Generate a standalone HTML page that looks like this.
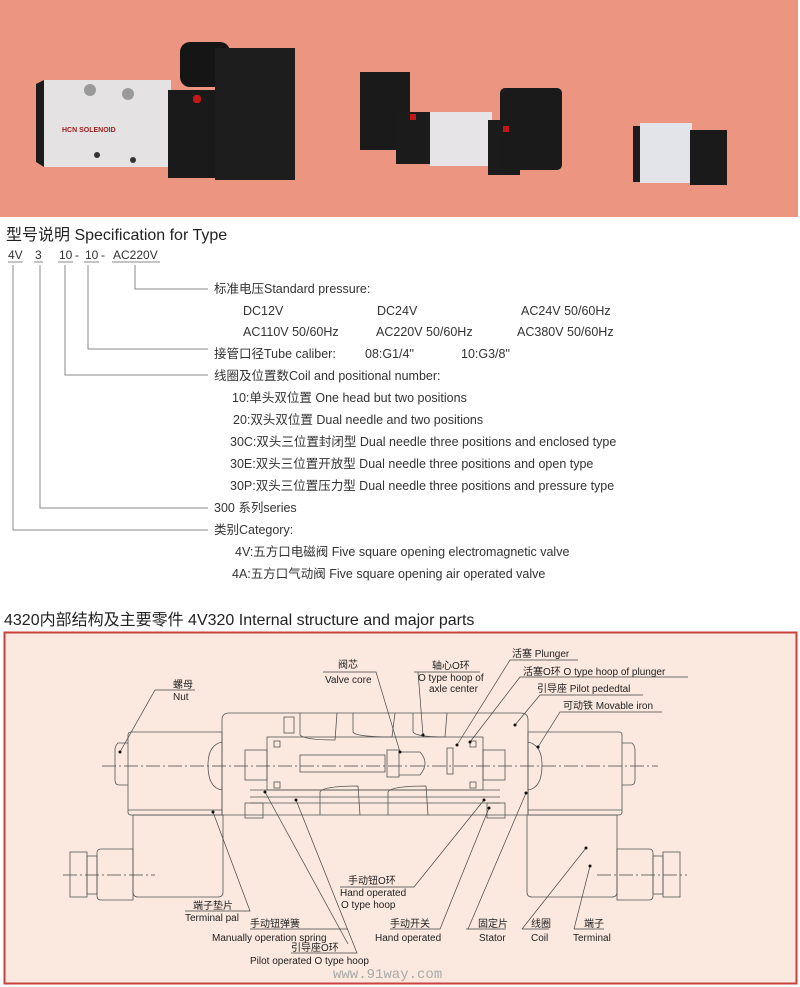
<!DOCTYPE html>
<html><head><meta charset="utf-8"><style>
body{margin:0;width:800px;height:987px;background:#fff;overflow:hidden;font-family:"Liberation Sans","Noto Sans CJK SC",sans-serif;}
svg{position:absolute;left:0;top:0}
</style></head><body>
<svg width="800" height="987" viewBox="0 0 800 987" font-family="Liberation Sans, Noto Sans CJK SC, sans-serif">
<!-- photo area -->
<rect x="0" y="0" width="798" height="217" fill="#ec9580"/>
<!-- big valve -->
<g>
<polygon points="36,84 44,80 44,167 36,162" fill="#1c1c1c"/>
<rect x="44" y="80" width="127" height="87" fill="#e4e2e2"/>
<rect x="168" y="90" width="57" height="88" fill="#1a1a1a"/>
<rect x="180" y="42" width="50" height="45" rx="10" fill="#151515"/>
<rect x="215" y="48" width="80" height="132" fill="#1d1d1d"/>
<rect x="193" y="95" width="8" height="8" rx="3" fill="#c01818"/>
<text x="62" y="132" font-size="7" fill="#a02020" font-weight="bold">HCN  SOLENOID</text>
<circle cx="90" cy="90" r="6" fill="#9a9a9a"/><circle cx="128" cy="94" r="6" fill="#9a9a9a"/>
<circle cx="97" cy="155" r="3" fill="#333"/><circle cx="133" cy="160" r="3" fill="#333"/>
</g>
<!-- medium valve -->
<g>
<rect x="360" y="72" width="50" height="78" fill="#1a1a1a"/>
<rect x="396" y="112" width="36" height="52" fill="#1b1b1b"/>
<rect x="430" y="112" width="62" height="54" fill="#e6e4e6"/>
<rect x="488" y="120" width="32" height="55" fill="#1b1b1b"/>
<rect x="500" y="88" width="62" height="82" rx="5" fill="#1a1a1a"/>
<rect x="410" y="114" width="6" height="6" fill="#c01818"/><rect x="503" y="126" width="6" height="6" fill="#c01818"/>
</g>
<!-- small valve -->
<g>
<rect x="633" y="126" width="10" height="56" fill="#1c1c1c"/>
<rect x="640" y="123" width="52" height="60" fill="#e2e4ea"/>
<rect x="690" y="130" width="37" height="55" fill="#1a1a1a"/>
</g>

<!-- spec -->
<text x="6" y="240" font-size="16" fill="#222">型号说明  Specification for Type</text>
<g font-size="12" fill="#333">
<text x="8" y="259">4V</text><text x="35" y="259">3</text><text x="59" y="259">10</text><text x="75" y="259">-</text><text x="85" y="259">10</text><text x="101" y="259">-</text><text x="113" y="259">AC220V</text>
</g>
<g stroke="#888" stroke-width="1" fill="none">
<line x1="8" y1="262" x2="23" y2="262"/><line x1="34" y1="262" x2="43" y2="262"/><line x1="58" y1="262" x2="73" y2="262"/><line x1="84" y1="262" x2="99" y2="262"/><line x1="112" y1="262" x2="160" y2="262"/>
<polyline points="135,265 135,289 208,289"/>
<polyline points="88,265 88,349 208,349"/>
<polyline points="65,265 65,375 208,375"/>
<polyline points="40,265 40,508 208,508"/>
<polyline points="13,265 13,530 208,530"/>
</g>
<g font-size="12.5" fill="#333">
<text x="214" y="293">标准电压Standard pressure:</text>
<text x="243" y="315">DC12V</text><text x="377" y="315">DC24V</text><text x="521" y="315">AC24V  50/60Hz</text>
<text x="243" y="336">AC110V  50/60Hz</text><text x="376" y="336">AC220V  50/60Hz</text><text x="517" y="336">AC380V  50/60Hz</text>
<text x="214" y="358">接管口径Tube caliber:</text><text x="365" y="358">08:G1/4"</text><text x="461" y="358">10:G3/8"</text>
<text x="214" y="380">线圈及位置数Coil and positional number:</text>
<text x="232" y="402">10:单头双位置 One head but two positions</text>
<text x="233" y="424">20:双头双位置 Dual needle and two positions</text>
<text x="230" y="446">30C:双头三位置封闭型 Dual needle three positions and enclosed type</text>
<text x="230" y="468">30E:双头三位置开放型 Dual needle three positions and open type</text>
<text x="230" y="490">30P:双头三位置压力型 Dual needle three positions and pressure type</text>
<text x="214" y="512">300 系列series</text>
<text x="214" y="534">类别Category:</text>
<text x="235" y="556">4V:五方口电磁阀 Five square opening electromagnetic valve</text>
<text x="232" y="578">4A:五方口气动阀 Five square opening air operated valve</text>
</g>
<text x="4" y="625" font-size="16" fill="#222">4320内部结构及主要零件  4V320 Internal structure and major parts</text>

<!-- diagram -->
<rect x="4.5" y="632.5" width="792" height="351" fill="#fbe8de" stroke="#c84040" stroke-width="2"/>
<g stroke="#555" stroke-width="0.8" fill="none">
<path d="M222,720 Q222,713 229,713 L521,713 Q528,713 528,720 L528,815 L222,815 Z"/>
<rect x="267" y="737" width="216" height="53"/>
<line x1="250" y1="790" x2="500" y2="790"/><line x1="250" y1="797" x2="500" y2="797"/><line x1="250" y1="803" x2="500" y2="803"/>
<path d="M300,713 L300,735 Q305,740 335,740 L337,713"/>
<path d="M353,713 L353,732 Q356,737 392,737 L395,713"/>
<path d="M413,713 L413,732 Q416,737 445,737 L447,713"/>
<path d="M320,815 L320,792 Q323,786 358,786 L360,815"/>
<path d="M388,815 L388,792 Q391,786 426,786 L428,815"/>
<rect x="300" y="755" width="85" height="17"/>
<rect x="387" y="750" width="12" height="27"/>
<path d="M399,752 L420,752 Q430,763 420,775 L399,775"/>
<rect x="447" y="748" width="6" height="26"/>
<rect x="284" y="717" width="10" height="16"/>
<rect x="274" y="741" width="6" height="6"/><rect x="274" y="782" width="6" height="6"/>
<rect x="470" y="741" width="6" height="6"/><rect x="470" y="782" width="6" height="6"/>
<path d="M222,742 Q208,745 208,765 Q208,788 222,790"/>
<path d="M528,742 Q542,745 542,765 Q542,788 528,790"/>
<rect x="245" y="750" width="22" height="30"/><rect x="483" y="750" width="22" height="30"/>
<rect x="245" y="803" width="18" height="15"/><rect x="487" y="803" width="18" height="15"/>
<path d="M128,735 Q128,732 131,732 L222,732 L222,815 L131,815 Q128,815 128,812 Z"/>
<line x1="128" y1="810" x2="222" y2="810"/>
<path d="M133,815 L223,815 L223,892 Q223,897 218,897 L138,897 Q133,897 133,892 Z"/>
<path d="M97,853 Q97,849 101,849 L133,849 L133,900 L101,900 Q97,900 97,896 Z"/>
<rect x="87" y="856" width="10" height="38"/>
<rect x="70" y="852" width="17" height="45"/>
<path d="M128,743 L118,743 Q115,746 115,750 L115,780 Q115,785 119,785 L128,785"/>
<path d="M528,732 L619,732 Q622,732 622,735 L622,812 Q622,815 619,815 L528,815 Z"/>
<line x1="528" y1="810" x2="622" y2="810"/>
<path d="M527,815 L617,815 L617,892 Q617,897 612,897 L532,897 Q527,897 527,892 Z"/>
<path d="M617,849 L649,849 Q653,849 653,853 L653,896 Q653,900 649,900 L617,900 Z"/>
<rect x="653" y="856" width="10" height="38"/>
<rect x="663" y="852" width="17" height="45"/>
<path d="M622,743 L632,743 Q635,746 635,750 L635,780 Q635,785 631,785 L622,785"/>
</g>
<g stroke="#444" stroke-width="0.8" stroke-dasharray="14,3,2,3">
<line x1="102" y1="766" x2="658" y2="766"/>
<line x1="63" y1="875" x2="155" y2="875"/>
<line x1="597" y1="875" x2="687" y2="875"/>
</g>
<g stroke="#444" stroke-width="0.7" fill="none">
<polyline points="195,690 155,690 120,752"/>
<polyline points="323,672 376,672 400,752"/>
<polyline points="414,672 480,672"/><line x1="418" y1="672" x2="423" y2="735"/>
<polyline points="578,660 510,660 457,745"/>
<polyline points="688,677 520,677 470,742"/>
<polyline points="643,695 540,695 515,725"/>
<polyline points="662,712 560,712 538,747"/>
<polyline points="340,887 414,887 484,800"/>
<polyline points="185,911 250,911 213,812"/>
<polyline points="250,929 348,929"/>
<line x1="348" y1="944" x2="265" y2="792"/>
<polyline points="291,953 357,953 296,800"/>
<polyline points="390,929 440,929 489,808"/>
<polyline points="466,929 506,929"/><line x1="468" y1="929" x2="526" y2="793"/>
<polyline points="522,929 549,929"/><line x1="522" y1="929" x2="586" y2="848"/>
<polyline points="574,929 604,929"/><line x1="574" y1="929" x2="590" y2="866"/>
</g>
<g fill="#111">
<circle cx="120" cy="752" r="1.5"/><circle cx="400" cy="752" r="1.5"/><circle cx="423" cy="735" r="1.5"/><circle cx="457" cy="745" r="1.5"/><circle cx="470" cy="742" r="1.5"/><circle cx="515" cy="725" r="1.5"/><circle cx="538" cy="747" r="1.5"/><circle cx="484" cy="800" r="1.5"/><circle cx="213" cy="812" r="1.5"/><circle cx="265" cy="792" r="1.5"/><circle cx="296" cy="800" r="1.5"/><circle cx="489" cy="808" r="1.5"/><circle cx="526" cy="793" r="1.5"/><circle cx="586" cy="848" r="1.5"/><circle cx="590" cy="866" r="1.5"/>
</g>
<g font-size="10" fill="#222">
<text x="173" y="688">螺母</text><text x="173" y="700">Nut</text>
<text x="338" y="668">阀芯</text><text x="325" y="683">Valve core</text>
<text x="432" y="669">轴心O环</text><text x="418" y="681">O type hoop of</text><text x="429" y="692">axle center</text>
<text x="512" y="657">活塞  Plunger</text>
<text x="523" y="675">活塞O环  O type  hoop  of  plunger</text>
<text x="537" y="692">引导座  Pilot  pededtal</text>
<text x="563" y="709">可动铁  Movable  iron</text>
<text x="348" y="884">手动钮O环</text><text x="340" y="896">Hand  operated</text><text x="341" y="908">O  type  hoop</text>
<text x="193" y="909">端子垫片</text><text x="185" y="921">Terminal  pal</text>
<text x="250" y="927">手动钮弹簧</text><text x="212" y="941">Manually  operation  spring</text>
<text x="291" y="951">引导座O环</text><text x="250" y="964">Pilot  operated  O  type  hoop</text>
<text x="390" y="927">手动开关</text><text x="375" y="941">Hand  operated</text>
<text x="478" y="927">固定片</text><text x="479" y="941">Stator</text>
<text x="531" y="927">线圈</text><text x="531" y="941">Coil</text>
<text x="584" y="927">端子</text><text x="573" y="941">Terminal</text>
</g>
<text x="333" y="978" font-size="14" fill="#aaa" font-family="Liberation Mono, monospace">www.91way.com</text>
</svg>
</body></html>
